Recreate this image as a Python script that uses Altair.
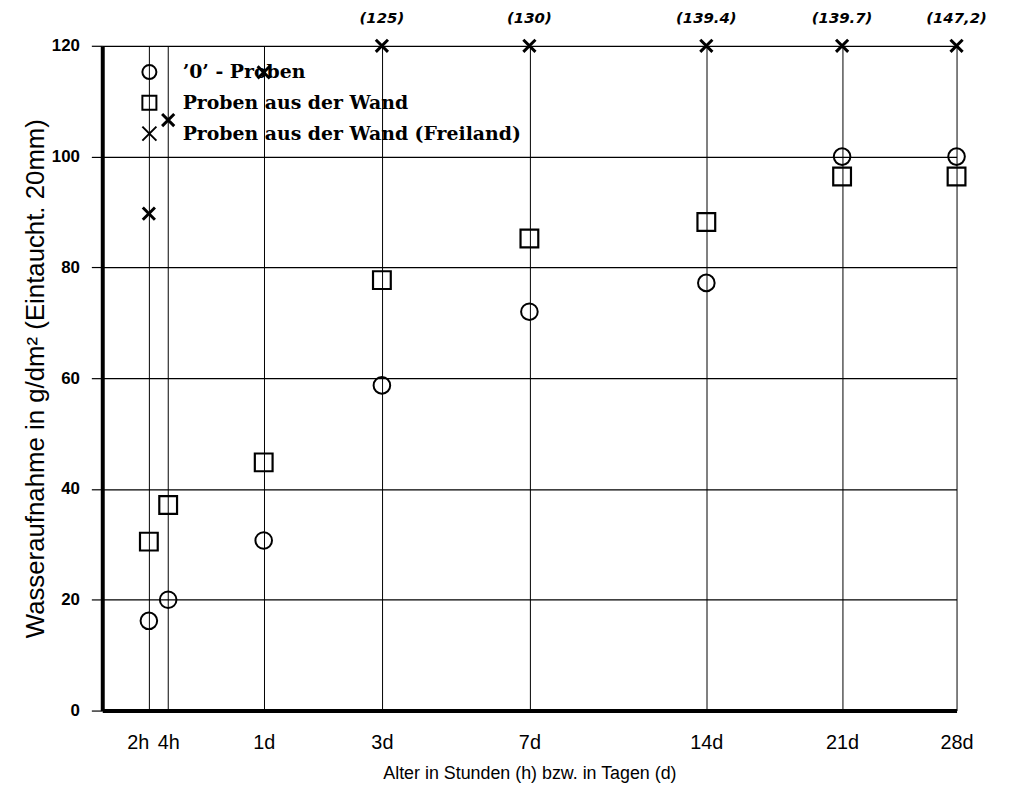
import altair as alt
import pandas as pd

# ---- data ----
age_labels = ["2h", "4h", "1d", "3d", "7d", "14d", "21d", "28d"]
age_days = [2 / 24, 4 / 24, 1, 3, 7, 14, 21, 28]

series_names = ["’0’ - Proben", "Proben aus der Wand", "Proben aus der Wand (Freiland)"]
null_proben = [16.2, 20.0, 30.7, 58.7, 72.0, 77.2, 100.0, 100.0]
wand = [30.5, 37.1, 44.8, 77.7, 85.2, 88.2, 96.4, 96.4]
freiland = [89.7, 106.6, 115.2, 125.0, 130.0, 139.4, 139.7, 147.2]
freiland_notes = ["", "", "", "(125)", "(130)", "(139.4)", "(139.7)", "(147,2)"]

y_ticks = [0, 20, 40, 60, 80, 100, 120]
y_max = 120

rows = []
for name, vals in zip(series_names, [null_proben, wand, freiland]):
    for d, lab, v in zip(age_days, age_labels, vals):
        rows.append({"series": name, "days": d, "age": lab, "value": v})
df = pd.DataFrame(rows)

notes_df = pd.DataFrame({"days": age_days, "value": freiland, "note": freiland_notes})
notes_df = notes_df[notes_df["note"] != ""]

cross_path = "M-1,-1L1,1M-1,1L1,-1"
shape_range = ["circle", "square", cross_path]
mark_sizes = [280, 320, 150]
mark_strokes = [2, 2.2, 3]

days_js = "[" + ",".join(repr(d) for d in age_days) + "]"
label_expr = (
    "[" + ",".join("'" + l + "'" for l in age_labels) + "]"
    + "[indexof(" + days_js + ", datum.value)]"
)
# the first (2h) label sits left of its line so that it does not run into 4h
align_expr = "indexof(" + days_js + ", datum.value) == 0 ? 'right' : 'center'"

x_enc = alt.X(
    "days:Q",
    scale=alt.Scale(type="sqrt", domain=[0, 28], nice=False, zero=True),
    axis=alt.Axis(
        values=age_days,
        labelExpr=label_expr,
        labelAlign=alt.ExprRef(expr=align_expr),
        grid=True,
        gridColor="black",
        gridOpacity=1,
        gridWidth=1,
        ticks=False,
        tickSize=0,
        domainColor="black",
        domainWidth=4,
        labelFont="Liberation Sans Narrow, Liberation Sans, Arial",
        labelFontSize=20,
        labelColor="black",
        labelPadding=22,
        labelOverlap=False,
        labelFlush=False,
        title="Alter in Stunden (h) bzw. in Tagen (d)",
        titleFont="Liberation Sans, Arial",
        titleFontSize=18,
        titleFontWeight="normal",
        titleColor="black",
        titlePadding=12,
    ),
)

y_enc = alt.Y(
    "plot_y:Q",
    scale=alt.Scale(domain=[0, y_max], nice=False),
    axis=alt.Axis(
        values=y_ticks,
        grid=True,
        gridColor="black",
        gridOpacity=1,
        gridWidth=1.2,
        ticks=True,
        tickSize=11,
        tickColor="black",
        tickWidth=1.2,
        domainColor="black",
        domainWidth=4,
        labelFont="Liberation Sans, Arial",
        labelFontSize=17,
        labelFontWeight="bold",
        labelColor="black",
        labelPadding=12,
        title="Wasseraufnahme in g/dm² (Eintaucht. 20mm)",
        titleFont="Liberation Sans, Arial",
        titleFontSize=26,
        titleFontWeight="normal",
        titleColor="black",
        titlePadding=3,
    ),
)

shape_scale = alt.Scale(domain=series_names, range=shape_range)
legend = alt.Legend(
    title=None,
    orient="none",
    legendX=38,
    legendY=17,
    labelFont="DejaVu Serif",
    labelFontSize=19,
    labelFontWeight="bold",
    labelColor="black",
    labelOffset=24,
    labelLimit=600,
    symbolSize=200,
    symbolStrokeColor="black",
    symbolStrokeWidth=2,
    symbolFillColor="transparent",
    rowPadding=8,
    padding=0,
)

layers = []
for i, name in enumerate(series_names):
    layer = (
        alt.Chart(df)
        .transform_filter(alt.datum.series == name)
        .transform_calculate(plot_y=f"min(datum.value, {y_max})")
        .mark_point(
            filled=False,
            color="black",
            opacity=1,
            size=mark_sizes[i],
            strokeWidth=mark_strokes[i],
        )
        .encode(
            x=x_enc,
            y=y_enc,
            shape=alt.Shape("series:N", scale=shape_scale, legend=legend),
        )
    )
    layers.append(layer)

notes = (
    alt.Chart(notes_df)
    .transform_calculate(plot_y=f"min(datum.value, {y_max})")
    .mark_text(
        font="DejaVu Sans",
        fontStyle="italic",
        fontWeight="bold",
        fontSize=15,
        dy=-28,
        color="black",
    )
    .encode(x=alt.X("days:Q"), y=alt.Y("plot_y:Q"), text="note:N")
)

chart = (
    alt.layer(*layers, notes)
    .properties(
        width=861,
        height=670,
        autosize=alt.AutoSizeParams(type="none"),
        padding={"left": 95, "top": 35, "right": 70, "bottom": 80},
        background="white",
    )
    .configure_view(stroke=None)
)

chart.save("out.html", embed_options={"renderer": "svg", "actions": False})
